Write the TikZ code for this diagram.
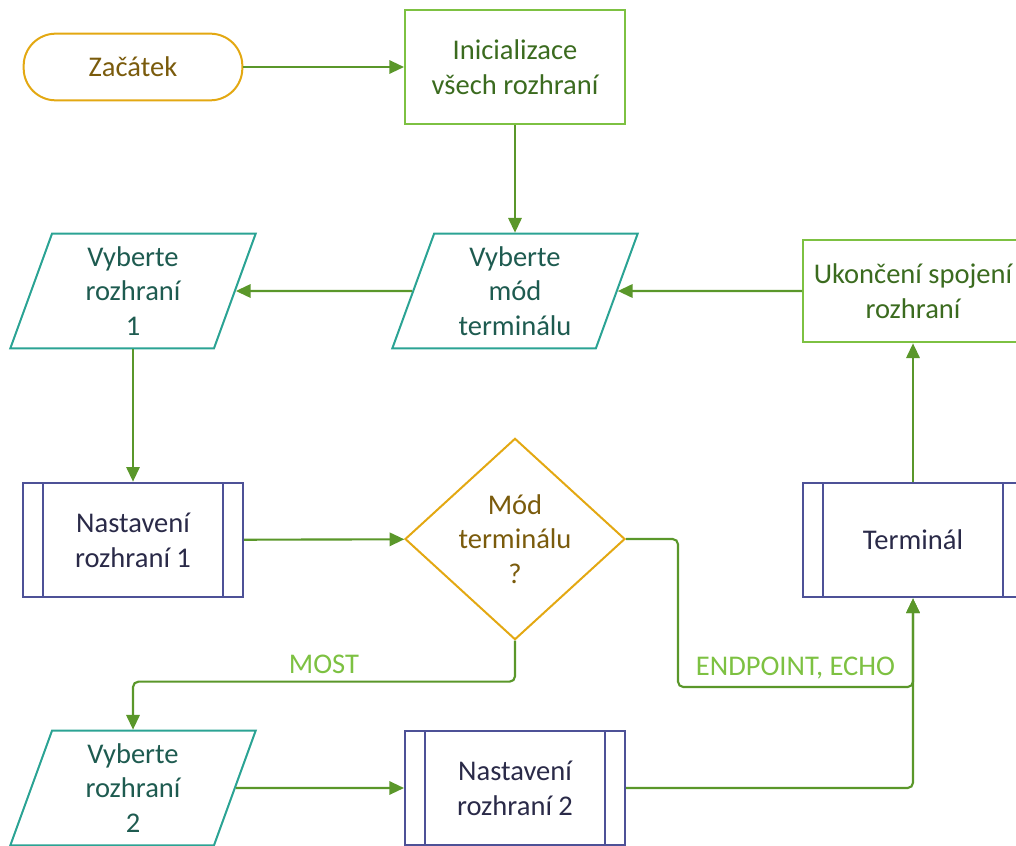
\documentclass[tikz,border=0pt]{standalone}
\usepackage{fontspec}
\setmainfont{Carlito}
\usetikzlibrary{shapes.geometric, arrows.meta}

\definecolor{startyellow}{HTML}{E3A812}
\definecolor{startbrown}{HTML}{7A5B0C}
\definecolor{procgreen}{HTML}{7DC142}
\definecolor{proctext}{HTML}{3B6B1F}
\definecolor{ioteal}{HTML}{2BA394}
\definecolor{iotext}{HTML}{1E5B50}
\definecolor{subnavy}{HTML}{4D5197}
\definecolor{subtext}{HTML}{2A2A48}
\definecolor{flowgreen}{HTML}{5A972A}
\definecolor{labelgreen}{HTML}{7DC142}

\begin{document}
\begin{tikzpicture}[
    x=0.75pt, y=-0.75pt,
    font=\fontsize{21.4}{26.1}\selectfont,
    start/.style={draw=startyellow, text=startbrown, line width=1.5pt, rounded corners=24pt,
        minimum width=164pt, minimum height=50pt},
    process/.style={draw=procgreen, text=proctext, line width=1.5pt, align=center,
        minimum width=165pt, minimum height=86pt},
    io/.style={trapezium, trapezium left angle=65, trapezium right angle=115, trapezium stretches body,
        draw=ioteal, text=iotext, line width=1.5pt, align=center, inner sep=0pt,
        minimum width=184pt, minimum height=86pt},
    subproc/.style={draw=subnavy, text=subtext, line width=1.5pt, align=center,
        minimum width=165pt, minimum height=86pt,
        path picture={\draw[subnavy, line width=1.5pt]
            ([xshift=15pt]path picture bounding box.north west) -- ([xshift=15pt]path picture bounding box.south west)
            ([xshift=-15pt]path picture bounding box.north east) -- ([xshift=-15pt]path picture bounding box.south east);}},
    decision/.style={diamond, draw=startyellow, text=startbrown, line width=1.5pt, align=center,
        inner sep=0pt, aspect=1.09, minimum width=165pt, minimum height=151pt},
    flow/.style={draw=flowgreen, line width=1.6pt, rounded corners=4pt, -{Triangle[length=11pt, width=10pt]}},
    branch/.style={text=labelgreen}
]

    % Rahmen des Bildes
    \useasboundingbox (0,0) rectangle (1016,845);
    \clip (0,0) rectangle (1016,845);

    % Bloky
    \node[start] (start) at (133,67) {Začátek};
    \node[process] (init) at (515,67) {Inicializace\\všech rozhraní};
    \node[io] (mode) at (515,291) {Vyberte\\mód\\terminálu};
    \node[io] (iface1) at (133,291) {Vyberte\\rozhraní\\1};
    \node[process, minimum height=77pt] (close) at (913,291) {Ukončení spojení\\rozhraní};
    \node[subproc] (setup1) at (133,540) {Nastavení\\rozhraní 1};
    \node[decision] (decide) at (515,539) {Mód\\terminálu\\?};
    \node[subproc] (term) at (913,540) {Terminál};
    \node[io] (iface2) at (133,788) {Vyberte\\rozhraní\\2};
    \node[subproc] (setup2) at (515,788) {Nastavení\\rozhraní 2};

    \coordinate (join) at (913,687);

    % Spojnice
    \draw[flow] (start) -- (init);
    \draw[flow] (init) -- (mode);
    \draw[flow] (mode) -- (iface1);
    \draw[flow] (close) -- (mode);
    \draw[flow] (iface1) -- (setup1);
    \draw[flow] (setup1) -- (decide);
    \draw[flow] (decide.south) -- ++(0,41) -| (iface2.north) node[branch, pos=0.25, above=2pt] {MOST};
    \draw[flow] (decide.east) -- ++(52,0) |- (join) node[branch, pos=0.75, above=2pt] {ENDPOINT, ECHO} -- (term.south);
    \draw[flow] (iface2) -- (setup2);
    \draw[flow] (setup2) -| (term.south);
    \draw[flow] (term) -- (close);

\end{tikzpicture}
\end{document}
